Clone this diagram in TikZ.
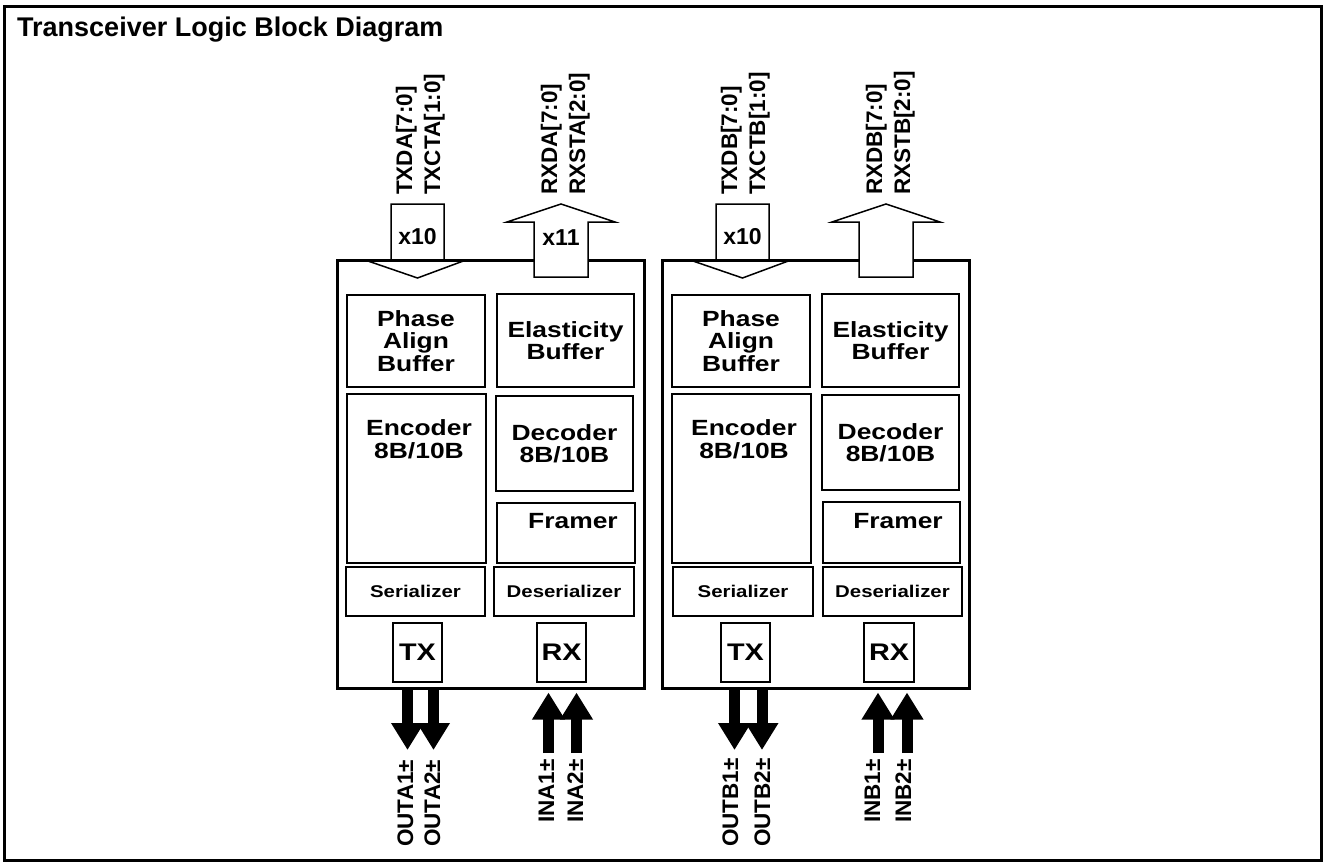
\documentclass[tikz,border=0pt]{standalone}
\usepackage{fontspec}
\setmainfont{Liberation Sans}
\newfontfamily\wideface[FakeStretch=1.2]{Liberation Sans}
\usetikzlibrary{arrows.meta}

\begin{document}
\begin{tikzpicture}[
        x=1pt, y=-1pt,
        chip/.style={rectangle, draw=black, line width=3pt, inner sep=0pt},
        block/.style={rectangle, draw=black, line width=1.5pt, inner sep=0pt, align=center, font=\wideface\bfseries\fontsize{22}{22.5}\selectfont},
        small/.style={block, font=\wideface\bfseries\fontsize{17}{18}\selectfont},
        port/.style={block, font=\wideface\bfseries\fontsize{24}{24}\selectfont},
        blocktext/.style={inner sep=0pt, anchor=north, align=center, font=\wideface\bfseries\fontsize{22}{23}\selectfont},
        bus/.style={draw=black, line width=1.5pt, fill=white, line join=miter},
        buslabel/.style={inner sep=0pt, font=\bfseries\fontsize{23}{23}\selectfont},
        signal/.style={rotate=90, anchor=base west, inner sep=0pt, font=\bfseries\fontsize{22.5}{22.5}\selectfont},
        serial/.style={line width=11pt, -{Triangle[width=31pt, length=27pt]}}
    ]
        % Frame and title
        \useasboundingbox (0,0) rectangle (1323,867);
        \draw[line width=3pt] (4,7) rectangle (1321,860);
        \node[anchor=base west, inner sep=0pt, font=\bfseries\fontsize{27}{27}\selectfont] (title) at (17,37) {Transceiver Logic Block Diagram};

        % Channel A - parallel buses (transmit bus lies under the chip outline)
        \draw[bus] (391,204) -- (444,204) -- (444,260) -- (466,260) -- (417.5,278) -- (365,260) -- (391,260) -- cycle;
        \node[chip, minimum width=307pt, minimum height=428pt] (chipA) at (490.5,474) {};
        \draw[bus] (534,277) -- (534,222) -- (507,222) -- (561,204) -- (615,222) -- (588,222) -- (588,277) -- cycle;
        \node[buslabel] (txbusA) at (417.5,237) {x10};
        \node[buslabel] (rxbusA) at (561,238) {x11};

        % Channel A - blocks
        \node[block, minimum width=138pt, minimum height=92pt] (phaseA) at (416,341) {Phase\\Align\\Buffer};
        \node[block, minimum width=137pt, minimum height=93pt] (elastA) at (565.5,340.5) {Elasticity\\Buffer};
        \node[block, minimum width=139pt, minimum height=169pt] (encA) at (416.5,478.5) {};
        \node[blocktext] (encAtext) at (419,419) {Encoder\\8B/10B};
        \node[block, minimum width=137pt, minimum height=95pt] (decA) at (564.5,443.5) {Decoder\\8B/10B};
        \node[block, minimum width=138pt, minimum height=60pt] (frmA) at (566,533) {};
        \node[blocktext] (frmAtext) at (573,513) {Framer};
        \node[small, minimum width=139pt, minimum height=49pt] (serA) at (415.5,591.5) {Serializer};
        \node[small, minimum width=140pt, minimum height=49pt] (desA) at (564,591.5) {Deserializer};
        \node[port, minimum width=49pt, minimum height=59pt] (txA) at (417.5,652.5) {TX};
        \node[port, minimum width=49pt, minimum height=59pt] (rxA) at (561.5,652.5) {RX};

        % Channel A - pins
        \node[signal] (txdA) at (412,195) {TXDA[7:0]};
        \node[signal] (txcA) at (440,195) {TXCTA[1:0]};
        \node[signal] (rxdA) at (557,195) {RXDA[7:0]};
        \node[signal] (rxsA) at (585,195) {RXSTA[2:0]};
        \node[signal] (outA1lbl) at (413,847) {OUTA1±};
        \node[signal] (outA2lbl) at (440,847) {OUTA2±};
        \node[signal] (inA1lbl) at (554,823) {INA1±};
        \node[signal] (inA2lbl) at (583,823) {INA2±};

        % Channel A - serial lines
        \coordinate (outA1) at (407.5,750);
        \coordinate (outA2) at (433.5,750);
        \coordinate (inA1) at (548.5,753);
        \coordinate (inA2) at (576.5,753);
        \draw[serial] (chipA.south -| outA1) -- (outA1);
        \draw[serial] (chipA.south -| outA2) -- (outA2);
        \draw[serial, shorten >=3pt] (inA1) -- (chipA.south -| inA1);
        \draw[serial, shorten >=3pt] (inA2) -- (chipA.south -| inA2);

        % Channel B - parallel buses
        \draw[bus] (716,204) -- (769,204) -- (769,260) -- (791,260) -- (742.5,278) -- (690,260) -- (716,260) -- cycle;
        \node[chip, minimum width=307pt, minimum height=428pt] (chipB) at (815.5,474) {};
        \draw[bus] (859,277) -- (859,222) -- (832,222) -- (886,204) -- (940,222) -- (913,222) -- (913,277) -- cycle;
        \node[buslabel] (txbusB) at (742.5,237) {x10};

        % Channel B - blocks
        \node[block, minimum width=138pt, minimum height=92pt] (phaseB) at (741,341) {Phase\\Align\\Buffer};
        \node[block, minimum width=137pt, minimum height=93pt] (elastB) at (890.5,340.5) {Elasticity\\Buffer};
        \node[block, minimum width=139pt, minimum height=169pt] (encB) at (741.5,478.5) {};
        \node[blocktext] (encBtext) at (744,419) {Encoder\\8B/10B};
        \node[block, minimum width=137pt, minimum height=95pt] (decB) at (890.5,442.5) {Decoder\\8B/10B};
        \node[block, minimum width=137pt, minimum height=61pt] (frmB) at (891.5,532.5) {};
        \node[blocktext] (frmBtext) at (898,513) {Framer};
        \node[small, minimum width=140pt, minimum height=49pt] (serB) at (743,591.5) {Serializer};
        \node[small, minimum width=139pt, minimum height=49pt] (desB) at (892.5,591.5) {Deserializer};
        \node[port, minimum width=49pt, minimum height=59pt] (txB) at (745.5,652.5) {TX};
        \node[port, minimum width=50pt, minimum height=59pt] (rxB) at (889,652.5) {RX};

        % Channel B - pins
        \node[signal] (txdB) at (737,195) {TXDB[7:0]};
        \node[signal] (txcB) at (765,195) {TXCTB[1:0]};
        \node[signal] (rxdB) at (882,195) {RXDB[7:0]};
        \node[signal] (rxsB) at (910,195) {RXSTB[2:0]};
        \node[signal] (outB1lbl) at (738,847) {OUTB1±};
        \node[signal] (outB2lbl) at (770,847) {OUTB2±};
        \node[signal] (inB1lbl) at (880,823) {INB1±};
        \node[signal] (inB2lbl) at (911,823) {INB2±};

        % Channel B - serial lines
        \coordinate (outB1) at (734.5,750);
        \coordinate (outB2) at (762,750);
        \coordinate (inB1) at (878,753);
        \coordinate (inB2) at (907,753);
        \draw[serial] (chipB.south -| outB1) -- (outB1);
        \draw[serial] (chipB.south -| outB2) -- (outB2);
        \draw[serial, shorten >=3pt] (inB1) -- (chipB.south -| inB1);
        \draw[serial, shorten >=3pt] (inB2) -- (chipB.south -| inB2);
    \end{tikzpicture}
\end{document}
